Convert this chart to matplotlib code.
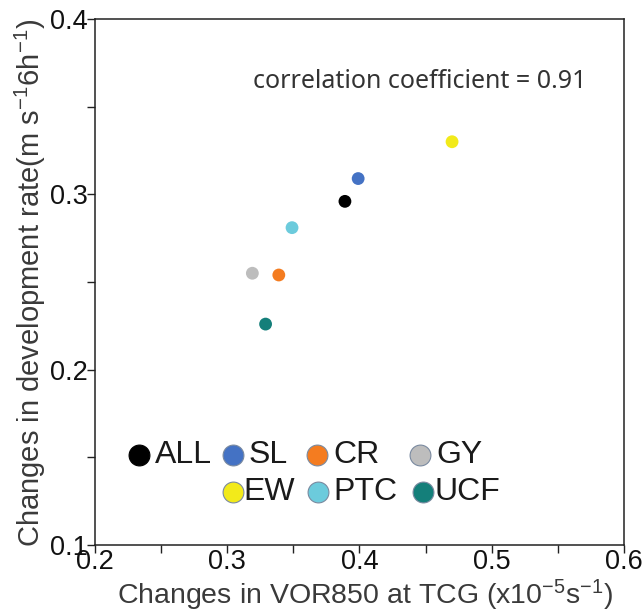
import matplotlib
matplotlib.use("Agg")
import matplotlib.pyplot as plt
from matplotlib.ticker import MultipleLocator

# ---- data ----
groups = ["ALL", "SL", "CR", "GY", "EW", "PTC", "UCF"]
vor850 = [0.389, 0.399, 0.339, 0.319, 0.470, 0.349, 0.329]
dev_rate = [0.296, 0.309, 0.254, 0.255, 0.330, 0.281, 0.226]
colors = ["#000000", "#4472C4", "#F47C20", "#BDBDBD", "#F2EA1A", "#6CCBDC", "#147F7A"]
corr_text = "correlation coefficient = 0.91"
xticks = [0.2, 0.3, 0.4, 0.5, 0.6]
yticks = [0.1, 0.2, 0.3, 0.4]

plt.rcParams['font.family'] = ['Liberation Sans', 'DejaVu Sans']
plt.rcParams['mathtext.fontset'] = 'custom'
plt.rcParams['mathtext.rm'] = 'Liberation Sans'
plt.rcParams['mathtext.it'] = 'Liberation Sans'
plt.rcParams['mathtext.default'] = 'rm'

fig = plt.figure(figsize=(6.44, 6.13), dpi=100)
ax = fig.add_axes([0.1475, 0.1109, 0.8214, 0.8581])

ax.scatter(vor850, dev_rate, s=85, c=colors, edgecolors='none', zorder=3)

ax.set_xlim(0.2, 0.6)
ax.set_ylim(0.1, 0.4)
ax.set_xticks(xticks)
ax.set_yticks(yticks)
ax.set_xticklabels([f"{v:.1f}" for v in xticks])
ax.set_yticklabels([f"{v:.1f}" for v in yticks])
ax.xaxis.set_minor_locator(MultipleLocator(0.05))
ax.yaxis.set_minor_locator(MultipleLocator(0.05))
ax.tick_params(which='both', direction='out', color='#222222', width=1.0,
               labelsize=19.5, labelcolor='#111111')
ax.tick_params(which='major', length=6)
ax.tick_params(which='minor', length=6)
ax.tick_params(axis='x', pad=-3)
ax.tick_params(axis='y', pad=-1)
for sp in ax.spines.values():
    sp.set_color('#222222')
    sp.set_linewidth(1.1)

ax.set_xlabel(r"Changes in VOR850 at TCG (x10$^{-5}$s$^{-1}$)", fontsize=20.5,
              color='#3a3a3a', va='center', ha='center')
ax.xaxis.set_label_coords(0.5104, -0.095)
ax.set_ylabel(r"Changes in development rate(m s$^{-1}$6h$^{-1}$)", fontsize=21,
              color='#3a3a3a', va='center', ha='center')
ax.yaxis.set_label_coords(-0.123, 0.498)

ax.text(0.6144, 0.8808, corr_text, transform=ax.transAxes, ha='center',
        va='center', fontsize=18, color='#333333', family=['Noto Sans', 'DejaVu Sans'])

# manual legend layout (axes fractions)
leg_marker_pos = [(0.0837, 0.1711), (0.2603, 0.1711), (0.4191, 0.1711), (0.6144, 0.1711),
                  (0.2614, 0.1013), (0.4221, 0.1013), (0.6195, 0.1013)]
leg_text_x = [0.113, 0.290, 0.450, 0.645, 0.280, 0.450, 0.642]
for g, c, (mx, my), tx in zip(groups, colors, leg_marker_pos, leg_text_x):
    ax.plot([mx], [my], marker='o', markersize=15, color=c,
            markeredgecolor='#7a8aa0' if c != '#000000' else '#000000',
            markeredgewidth=0.8, transform=ax.transAxes, clip_on=False, zorder=4)
    ax.text(tx, my, g, transform=ax.transAxes, ha='left', va='center',
            fontsize=23, color='#1a1a1a')

fig.savefig("out.png", dpi=100)
